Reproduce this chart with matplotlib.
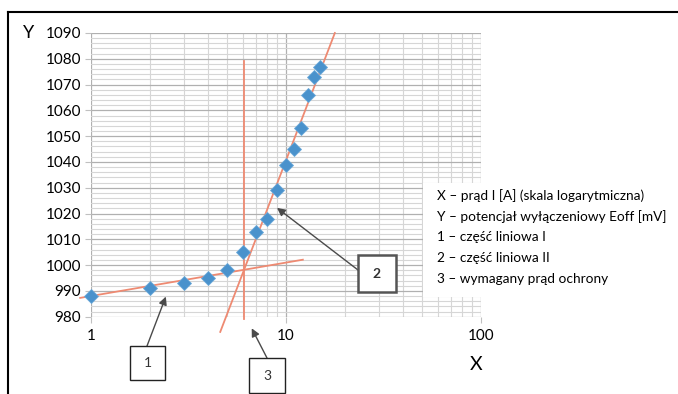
import numpy as np
import matplotlib
matplotlib.use('Agg')
import matplotlib.pyplot as plt
from matplotlib.lines import Line2D
from matplotlib.patches import Rectangle
from matplotlib.ticker import MultipleLocator, NullFormatter

plt.rcParams['font.family'] = ['Lato', 'DejaVu Sans']

# measured points: current I [A] vs off potential Eoff [mV]
current = [1, 2, 3, 4, 5, 6, 7, 8, 9, 10, 11, 12, 13, 14, 15]
eoff = [988, 991, 993, 995, 998, 1005, 1013, 1018, 1029, 1039, 1045, 1053, 1066, 1073, 1077]

# hand drawn straight lines (linear part I, linear part II, required current)
line1_x = [0.88, 12.2]
line1_y = [987.3, 1002.1]
line2_x = [4.6, 17.8]
line2_y = [974.1, 1090.0]
line3_x = [6.08, 6.08]
line3_y = [979, 1079]

yticks = list(range(980, 1091, 10))
xticks = [1, 10, 100]
xticklabels = ['1', '10', '100']

legend_lines = [
    'X – prąd I [A] (skala logarytmiczna)',
    'Y – potencjał wyłączeniowy Eoff [mV]',
    '1 – część liniowa I',
    '2 – część liniowa II',
    '3 – wymagany prąd ochrony',
]

W, H = 678, 394


def fp(x, y):
    # pixel position -> figure fraction
    return (x / W, 1 - y / H)


fig = plt.figure(figsize=(W / 100, H / 100), dpi=100)
ax = fig.add_axes([91 / W, 1 - 316.7 / H, 390 / W, (316.7 - 33) / H])

ax.set_xscale('log')
ax.set_xlim(1, 100)
ax.set_ylim(980, 1090)
ax.set_yticks(yticks)
ax.yaxis.set_minor_locator(MultipleLocator(2))
ax.set_xticks(xticks)
ax.set_xticklabels(xticklabels)
ax.xaxis.set_minor_formatter(NullFormatter())

ax.grid(which='major', color='#b0b0b0', lw=0.9)
ax.grid(which='minor', color='#d6d6d6', lw=0.8)
ax.set_axisbelow(True)
for s in ax.spines.values():
    s.set_visible(False)
ax.tick_params(which='major', length=4, color='#c0c0c0', labelsize=11, pad=3)
ax.tick_params(axis='x', which='major', pad=5)
ax.tick_params(which='minor', length=0)

ax.plot(line1_x, line1_y, color='#ee8a72', lw=1.3, clip_on=False, zorder=3)
ax.plot(line2_x, line2_y, color='#ee8a72', lw=1.3, clip_on=False, zorder=3)
ax.plot(line3_x, line3_y, color='#ee8a72', lw=1.3, clip_on=False, zorder=3)

ax.plot(current, eoff, ls='none', marker='D', ms=7.5, color='#4a92cc',
        mec='#6aa8d8', mew=0.6, clip_on=False, zorder=4)

fig.text(*fp(29, 33), 'Y', fontsize=13, ha='center', va='center')
fig.text(*fp(476, 364), 'X', fontsize=14, ha='center', va='center')

# outer frame
fig.add_artist(Line2D([8 / W, 1], [1 - 12 / H] * 2, color='black', lw=1.5))
fig.add_artist(Line2D([8 / W, 8 / W], [1 - 12 / H, 0], color='black', lw=1.5))

# numbered boxes with arrows
boxes = [
    ('1', 130, 346, 35, 34, (2.42, 987.8), (147, 346), 'normal', '#222222', 1.0),
    ('3', 249, 358, 36, 35, (6.67, 975.5), (267, 358), 'normal', '#222222', 1.0),
    ('2', 358, 255, 38, 37, (8.99, 1022.2), (358, 270), 'bold', '#555555', 1.8),
]
for lab, bx, by, bw, bh, tip, tail, fw, ec, blw in boxes:
    ax.annotate('', xy=tip, xycoords='data', xytext=fp(*tail),
                textcoords='figure fraction',
                arrowprops=dict(arrowstyle='-|>', color='#4a4a4a', lw=1.0,
                                shrinkA=0, shrinkB=0, mutation_scale=12),
                annotation_clip=False, zorder=5)
    x0, y0 = fp(bx, by + bh)
    fig.add_artist(Rectangle((x0, y0), bw / W, bh / H, transform=fig.transFigure,
                             facecolor='white', edgecolor=ec, lw=blw, zorder=6))
    fig.text(*fp(bx + bw / 2, by + bh / 2), lab, fontsize=10, fontweight=fw,
             color='#333333', ha='center', va='center', zorder=7)

# description box
x0, y0 = fp(423, 297)
fig.add_artist(Rectangle((x0, y0), (W - 423) / W, (297 - 183) / H, transform=fig.transFigure,
                         facecolor='white', edgecolor='none', zorder=6))
for i, t in enumerate(legend_lines):
    fig.text(*fp(437, 196 + i * 20.7), t, fontsize=9.8, ha='left', va='center', zorder=7)

fig.savefig('out.png', dpi=100)
